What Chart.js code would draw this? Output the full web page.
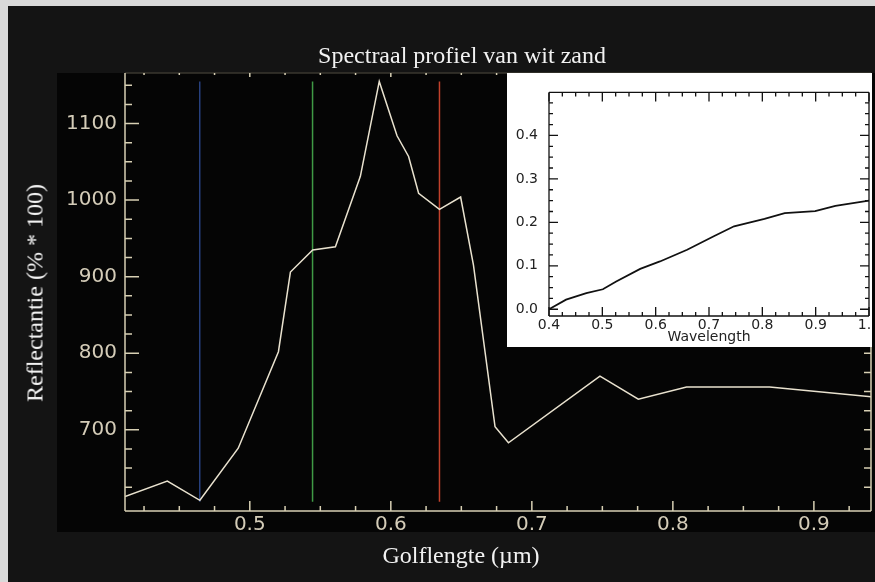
<!DOCTYPE html>
<html>
<head>
<meta charset="utf-8">
<title>Spectraal profiel van wit zand</title>
<script src="https://cdn.jsdelivr.net/npm/chart.js@4.4.1/dist/chart.umd.min.js"></script>
<style>
  html, body { margin: 0; padding: 0; }
  body { width: 875px; height: 582px; overflow: hidden; position: relative; background: #d9d9d9; }
  #panel { position: absolute; left: 8px; top: 6px; right: 0; bottom: 0; background: #141414; }
  #plotbg { position: absolute; left: 57px; top: 73px; width: 818px; height: 459px; background: #050505; }
  #main { position: absolute; left: 0; top: 0; }
  #insetBox { position: absolute; left: 507px; top: 73px; width: 365px; height: 274px; background: #fff; overflow: hidden; }
  #inset { position: absolute; left: 0; top: 0; }
  .lbl { position: absolute; font-family: "Liberation Serif", "DejaVu Serif", serif; font-size: 24px; color: #f2f2f2; white-space: nowrap; }
  #title { left: 462px; top: 42px; transform: translateX(-50%); }
  #xtitle { left: 461px; top: 542px; transform: translateX(-50%); }
  #ytitle { left: 35px; top: 293px; transform: translate(-50%, -50%) rotate(-90deg); }
</style>
</head>
<body>
<div id="panel"></div>
<div id="plotbg"></div>
<canvas id="main" width="875" height="582"></canvas>
<div class="lbl" id="title">Spectraal profiel van wit zand</div>
<div class="lbl" id="xtitle">Golflengte (µm)</div>
<div class="lbl" id="ytitle">Reflectantie (% * 100)</div>
<div id="insetBox"><canvas id="inset" width="420" height="274"></canvas></div>

<script>
// main profile (wavelength in µm, reflectance in % * 100)
const wavelength = [0.4115, 0.4415, 0.4646, 0.4918, 0.5203, 0.5288, 0.5446, 0.5607, 0.5784, 0.5918,
                    0.6044, 0.6126, 0.6197, 0.6345, 0.6495, 0.6586, 0.6739, 0.6834, 0.7483, 0.7755,
                    0.8097, 0.8686, 0.9416];
const reflectance = [613, 633, 608, 676, 802, 906, 935, 939, 1031, 1155,
                     1084, 1057, 1009, 988, 1004, 915, 704, 683, 770, 740,
                     756, 756, 743];

// band markers
const blueBand = 0.4645;
const greenBand = 0.5445;
const redBand = 0.6345;
const bandRange = [606, 1155];

const xTickLabels = [0.5, 0.6, 0.7, 0.8, 0.9];
const yTickLabels = [700, 800, 900, 1000, 1100];

// inset: lab spectrum
const insetWavelength = [0.400, 0.432, 0.470, 0.501, 0.526, 0.571, 0.608, 0.659, 0.709, 0.747,
                         0.804, 0.842, 0.899, 0.937, 1.000];
const insetReflectance = [0.000, 0.022, 0.037, 0.046, 0.064, 0.093, 0.110, 0.137, 0.168, 0.191,
                          0.208, 0.221, 0.226, 0.238, 0.250];
const insetXTicks = [0.4, 0.5, 0.6, 0.7, 0.8, 0.9, 1.0];
const insetYTicks = [0.0, 0.1, 0.2, 0.3, 0.4];

const pts = (xs, ys) => xs.map((v, i) => ({ x: v, y: ys[i] }));

// IDL style frame with inward ticks on all four sides
const frameTicks = {
  id: 'frameTicks',
  afterDatasetsDraw(chart, args, o) {
    const { ctx, chartArea: a } = chart;
    const x = chart.scales.x, y = chart.scales.y;
    ctx.save();
    ctx.lineWidth = o.lineWidth;
    const seg = (color, x1, y1, x2, y2) => {
      ctx.strokeStyle = color;
      ctx.beginPath(); ctx.moveTo(x1, y1); ctx.lineTo(x2, y2); ctx.stroke();
    };
    seg(o.topColor, a.left, a.top, a.right, a.top);
    seg(o.color, a.left, a.top, a.left, a.bottom);
    seg(o.color, a.left, a.bottom, a.right, a.bottom);
    seg(o.color, a.right, a.top, a.right, a.bottom);
    ctx.strokeStyle = o.color;
    ctx.beginPath();
    for (let i = Math.ceil(x.min / o.xStep - 1e-6); i * o.xStep <= x.max + 1e-9; i++) {
      const p = x.getPixelForValue(i * o.xStep);
      const major = i % o.xEvery === 0;
      ctx.moveTo(p, a.bottom); ctx.lineTo(p, a.bottom - (major ? o.bottom[0] : o.bottom[1]));
      ctx.moveTo(p, a.top); ctx.lineTo(p, a.top + (major ? o.top[0] : o.top[1]));
    }
    for (let i = Math.ceil(y.min / o.yStep - 1e-6); i * o.yStep <= y.max + 1e-9; i++) {
      const p = y.getPixelForValue(i * o.yStep);
      if (a.bottom - p < 6) continue; // too close to the bottom axis
      const major = i % o.yEvery === 0;
      ctx.moveTo(a.left, p); ctx.lineTo(a.left + (major ? o.left[0] : o.left[1]), p);
      ctx.moveTo(a.right, p); ctx.lineTo(a.right - (major ? o.right[0] : o.right[1]), p);
    }
    ctx.stroke();
    ctx.restore();
  }
};

const tickFont = { family: 'DejaVu Sans', size: 20 };

new Chart(document.getElementById('main'), {
  type: 'line',
  data: {
    datasets: [
      { data: pts(wavelength, reflectance), borderColor: '#e9e2cf', borderWidth: 1.5, pointRadius: 0, tension: 0 },
      { data: pts([blueBand, blueBand], bandRange), borderColor: '#27407e', borderWidth: 1.5, pointRadius: 0 },
      { data: pts([greenBand, greenBand], bandRange), borderColor: '#3f9a45', borderWidth: 1.5, pointRadius: 0 },
      { data: pts([redBand, redBand], bandRange), borderColor: '#c2412b', borderWidth: 1.5, pointRadius: 0 },
    ],
  },
  options: {
    responsive: false,
    animation: false,
    layout: { padding: { left: 8, right: 4, top: 73, bottom: 0 } },
    plugins: {
      legend: { display: false },
      tooltip: { enabled: false },
      frameTicks: {
        color: '#d8d0b4', topColor: '#3a372f', lineWidth: 1.5,
        xStep: 0.025, xEvery: 4, bottom: [10, 5], top: [4, 2],
        yStep: 25, yEvery: 4, left: [14, 7], right: [7, 7],
      },
    },
    scales: {
      x: {
        type: 'linear', min: 0.4115, max: 0.9405,
        grid: { display: false, drawTicks: false }, border: { display: false },
        afterBuildTicks: (s) => { s.ticks = xTickLabels.map((v) => ({ value: v })); },
        afterFit: (s) => { s.height = 71; },
        ticks: { padding: 2, color: '#d4ccb8', font: tickFont, maxRotation: 0, autoSkip: false,
                 callback: (v) => v.toFixed(1) },
      },
      y: {
        type: 'linear', min: 594, max: 1166,
        grid: { display: false, drawTicks: false }, border: { display: false },
        afterBuildTicks: (s) => { s.ticks = yTickLabels.map((v) => ({ value: v })); },
        afterFit: (s) => { s.width = 117; },
        ticks: { padding: 8, color: '#d4ccb8', font: tickFont, autoSkip: false,
                 callback: (v) => String(v) },
      },
    },
  },
  plugins: [frameTicks],
});

const insetFont = { family: 'DejaVu Sans', size: 14 };

new Chart(document.getElementById('inset'), {
  type: 'line',
  data: {
    datasets: [
      { data: pts(insetWavelength, insetReflectance), borderColor: '#111', borderWidth: 1.8, pointRadius: 0, tension: 0 },
    ],
  },
  options: {
    responsive: false,
    animation: false,
    layout: { padding: { left: 0, right: 58, top: 19, bottom: 0 } },
    plugins: {
      legend: { display: false },
      tooltip: { enabled: false },
      frameTicks: {
        color: '#111', topColor: '#111', lineWidth: 1.3,
        xStep: 0.025, xEvery: 4, bottom: [9, 4], top: [9, 4],
        yStep: 0.025, yEvery: 4, left: [9, 4], right: [9, 4],
      },
    },
    scales: {
      x: {
        type: 'linear', min: 0.4, max: 1.0,
        grid: { display: false, drawTicks: false }, border: { display: false },
        afterBuildTicks: (s) => { s.ticks = insetXTicks.map((v) => ({ value: v })); },
        afterFit: (s) => { s.height = 31; },
        ticks: { padding: 1, color: '#222', font: insetFont, maxRotation: 0, autoSkip: false,
                 callback: (v) => v.toFixed(1) },
        title: { display: true, text: 'Wavelength', color: '#222', font: insetFont, padding: { top: 0, bottom: 1 } },
      },
      y: {
        type: 'linear', min: -0.0155, max: 0.499,
        grid: { display: false, drawTicks: false }, border: { display: false },
        afterBuildTicks: (s) => { s.ticks = insetYTicks.map((v) => ({ value: v })); },
        afterFit: (s) => { s.width = 42; },
        ticks: { padding: 11, color: '#222', font: insetFont, autoSkip: false,
                 callback: (v) => v.toFixed(1) },
      },
    },
  },
  plugins: [frameTicks],
});
</script>
</body>
</html>
